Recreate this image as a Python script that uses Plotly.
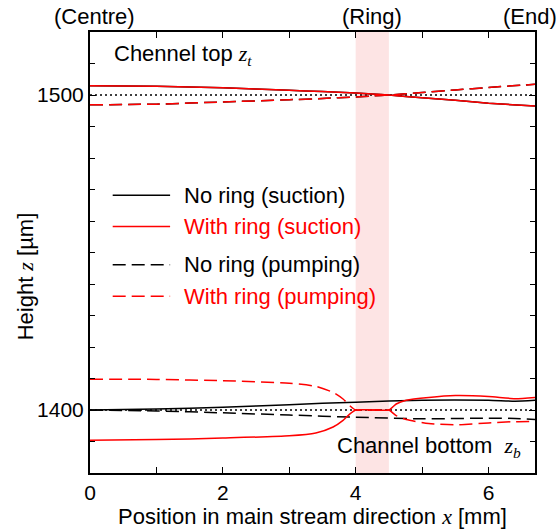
import plotly.graph_objects as go

# ---------------- data ----------------
x_top = [0, 1, 2, 3, 3.5, 4, 4.25, 4.5, 5, 5.5, 6, 6.7]
noring_suction_top = [1502.9, 1502.8, 1502.3, 1501.5, 1501.1, 1500.6, 1500.3, 1500.0, 1499.1, 1498.3, 1497.4, 1496.5]
noring_pumping_top = [1496.9, 1497.1, 1497.8, 1498.5, 1498.9, 1499.4, 1499.7, 1500.0, 1500.8, 1501.6, 1502.4, 1503.4]
ring_suction_top = [1502.9, 1502.8, 1502.3, 1501.5, 1501.1, 1500.6, 1500.3, 1500.0, 1499.1, 1498.3, 1497.4, 1496.5]
ring_pumping_top = [1496.9, 1497.1, 1497.8, 1498.5, 1498.9, 1499.4, 1499.7, 1500.0, 1500.8, 1501.6, 1502.4, 1503.4]

x_bot = [0, 1, 2, 3, 4, 5, 6, 6.4, 6.7]
noring_suction_bot = [1400.0, 1400.3, 1400.9, 1401.7, 1402.5, 1403.1, 1403.1, 1402.8, 1403.1]
noring_pumping_bot = [1400.0, 1399.7, 1399.1, 1398.4, 1397.7, 1397.2, 1397.4, 1397.3, 1397.0]

x_ring = [0, 1, 2, 3, 3.4, 3.66, 3.81, 3.91, 4.0, 4.25, 4.5, 4.61, 4.76, 5.1, 5.5, 6.0, 6.4, 6.7]
ring_suction_bot = [1390.4, 1390.6, 1391.1, 1391.8, 1392.7, 1394.6, 1396.7, 1398.7, 1400.0, 1400.0, 1400.0,
                    1401.9, 1403.1, 1404.0, 1404.6, 1404.3, 1403.6, 1404.0]
ring_pumping_bot = [1409.8, 1409.7, 1409.3, 1408.5, 1407.5, 1405.6, 1403.5, 1401.4, 1400.0, 1400.0, 1400.0,
                    1398.2, 1397.0, 1395.7, 1395.3, 1395.9, 1396.3, 1396.4]

ring_band = [4.0, 4.5]
ref_levels = [1400, 1500]
x_range = [0, 6.7]
y_range = [1380, 1520]

series_labels = ["No ring (suction)", "With ring (suction)", "No ring (pumping)", "With ring (pumping)"]
series_colors = ["black", "#ff0000", "black", "#ff0000"]
series_dash = ["solid", "solid", "13px,6px", "13px,6px"]

region_labels = ["(Centre)", "(Ring)", "(End)"]
region_x = [0.07, 4.24, 6.63]

FONT = "Liberation Sans, Arial, sans-serif"
SERIF = "Liberation Serif, Times New Roman, serif"
FS = 22
TFS = 21

fig = go.Figure()

def add_line(x, y, color, dash):
    fig.add_trace(go.Scatter(x=x, y=y, mode="lines", showlegend=False, hoverinfo="skip",
                             line=dict(color=color, width=1.5, dash=dash, shape="spline", smoothing=0.6)))

# black first, red over it
add_line(x_top, noring_suction_top, "black", "solid")
add_line(x_top, noring_pumping_top, "black", series_dash[2])
add_line(x_bot, noring_suction_bot, "black", "solid")
add_line(x_bot, noring_pumping_bot, "black", series_dash[2])
add_line(x_top, ring_suction_top, "#ff0000", "solid")
add_line(x_top, ring_pumping_top, "#ff0000", series_dash[3])
add_line(x_ring, ring_suction_bot, "#ff0000", "solid")
add_line(x_ring, ring_pumping_bot, "#ff0000", series_dash[3])

shapes = [dict(type="rect", xref="x", yref="paper", x0=ring_band[0], x1=ring_band[1], y0=0, y1=1,
               fillcolor="#fde4e4", line=dict(width=0), layer="below")]
for lv in ref_levels:
    shapes.append(dict(type="line", xref="paper", yref="y", x0=0, x1=1, y0=lv, y1=lv,
                       line=dict(color="black", width=1.5, dash="2px,3px"), layer="below"))

# manual legend
leg_y = [0.630, 0.559, 0.472, 0.401]
annotations = []
for lab, col, dsh, yy in zip(series_labels, series_colors, series_dash, leg_y):
    shapes.append(dict(type="line", xref="paper", yref="paper", x0=0.051, x1=0.180, y0=yy, y1=yy,
                       line=dict(color=col, width=1.5, dash=dsh)))
    annotations.append(dict(xref="paper", yref="paper", x=0.207, y=yy, xanchor="left", yanchor="middle",
                            text=lab, showarrow=False, font=dict(family=FONT, size=FS, color=col)))

for lab, xx in zip(region_labels, region_x):
    annotations.append(dict(xref="x", yref="paper", x=xx, y=1.036, xanchor="center", yanchor="middle",
                            text=lab, showarrow=False, font=dict(family=FONT, size=FS, color="black")))

annotations.append(dict(xref="paper", yref="paper", x=0.049, y=0.948, xanchor="left", yanchor="middle",
                        showarrow=False, font=dict(family=FONT, size=FS, color="black"),
                        text="Chennel top <span style='font-family:" + SERIF + "'><i>z</i><sub><i>t</i></sub></span>"))
annotations.append(dict(xref="paper", yref="paper", x=0.551, y=0.058, xanchor="left", yanchor="middle",
                        showarrow=False, font=dict(family=FONT, size=FS, color="black"),
                        text="Channel bottom&nbsp; <span style='font-family:" + SERIF + "'><i>z</i><sub><i>b</i></sub></span>"))
annotations.append(dict(xref="paper", yref="paper", x=-0.146, y=0.446, xanchor="center", yanchor="middle",
                        textangle=-90, showarrow=False, font=dict(family=FONT, size=FS, color="black"),
                        text="Height <span style='font-family:" + SERIF + "'><i>z</i></span> [µm]"))

fig.update_layout(
    width=560, height=532,
    margin=dict(l=90, r=25, t=32, b=56),
    paper_bgcolor="white", plot_bgcolor="white",
    font=dict(family=FONT, size=FS, color="black"),
    shapes=shapes, annotations=annotations,
    xaxis=dict(range=x_range, tick0=0, dtick=2, ticks="inside", ticklen=6, tickwidth=1.2, tickcolor="black",
               minor=dict(dtick=1, ticks="inside", ticklen=6, tickwidth=1.2, tickcolor="black"),
               showline=True, linewidth=2, linecolor="black", mirror="ticks", showgrid=False, zeroline=False,
               tickfont=dict(family=FONT, size=TFS),
               title=dict(text="Position in main stream direction <span style='font-family:" + SERIF + "'><i>x</i></span> [mm]",
                          font=dict(family=FONT, size=FS), standoff=0)),
    yaxis=dict(range=y_range, tick0=1400, dtick=100, ticks="inside", ticklen=6, tickwidth=1.2, tickcolor="black",
               minor=dict(dtick=10, ticks="inside", ticklen=5, tickwidth=1.2, tickcolor="black"),
               showline=True, linewidth=2, linecolor="black", mirror="ticks", showgrid=False, zeroline=False,
               tickfont=dict(family=FONT, size=TFS)),
)

# remove the browser's default 8px body margin so the figure sits at the page corner
fig.write_html("out.html", config={"displayModeBar": False},
               post_script="document.body.style.margin='0';document.body.style.overflow='hidden';")
